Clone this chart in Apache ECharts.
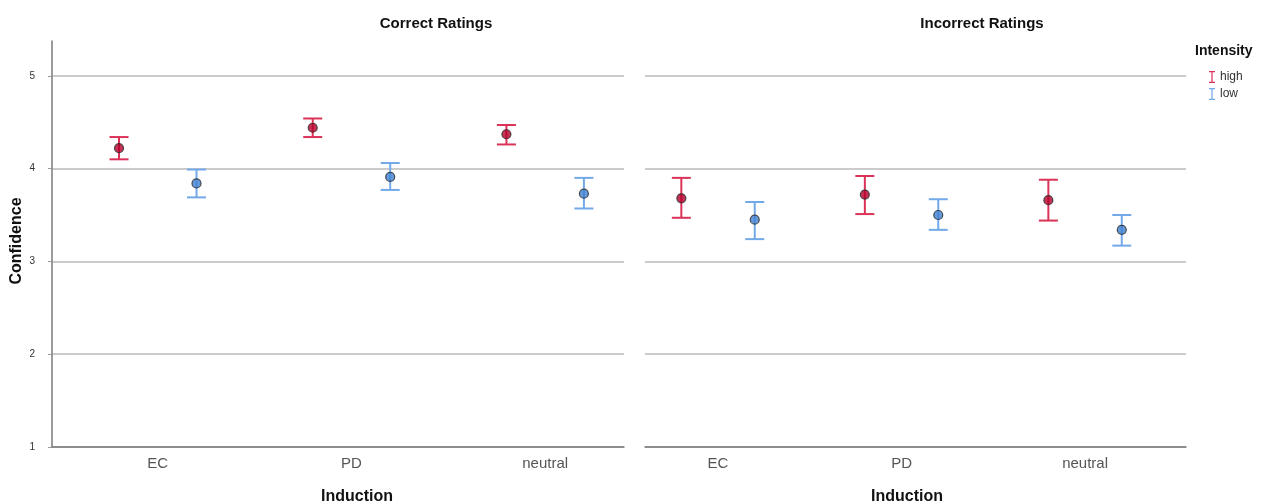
<!DOCTYPE html>
<html>
<head>
<meta charset="utf-8">
<script src="https://cdn.jsdelivr.net/npm/echarts@6/dist/echarts.min.js"></script>
<style>
  html, body { margin: 0; padding: 0; background: #fff; }
  #chart { width: 1263px; height: 504px; }
</style>
</head>
<body>
<div id="chart"></div>
<script>
// Induction conditions on the x axis
const categories = ['EC', 'PD', 'neutral'];
const yTicks = [1, 2, 3, 4, 5];
const panelTitles = ['Correct Ratings', 'Incorrect Ratings'];
const intensities = ['high', 'low'];

// Mean confidence with error bar bounds, correct ratings
const correctHighMean = [4.22, 4.44, 4.37];
const correctHighLow  = [4.10, 4.34, 4.26];
const correctHighHigh = [4.34, 4.54, 4.47];
const correctLowMean  = [3.84, 3.91, 3.73];
const correctLowLow   = [3.69, 3.77, 3.57];
const correctLowHigh  = [3.99, 4.06, 3.90];

// Mean confidence with error bar bounds, incorrect ratings
const incorrectHighMean = [3.68, 3.72, 3.66];
const incorrectHighLow  = [3.47, 3.51, 3.44];
const incorrectHighHigh = [3.90, 3.92, 3.88];
const incorrectLowMean  = [3.45, 3.50, 3.34];
const incorrectLowLow   = [3.24, 3.34, 3.17];
const incorrectLowHigh  = [3.64, 3.67, 3.50];

const FONT = '"Liberation Sans", Arial, sans-serif';
const barColors = { high: '#db3358', low: '#72a9e8' };
const dotColors = { high: '#b5002b', low: '#3f80d2' };
const dodge = { high: -0.2, low: 0.2 };

const panels = [
  { high: [correctHighMean, correctHighLow, correctHighHigh],
    low: [correctLowMean, correctLowLow, correctLowHigh] },
  { high: [incorrectHighMean, incorrectHighLow, incorrectHighHigh],
    low: [incorrectLowMean, incorrectLowLow, incorrectLowHigh] }
];

const legendIcon = 'path://M0,0H8V1.6H4.8V14.4H8V16H0V14.4H3.2V1.6H0Z';

function errorBarItem(params, api) {
  const x = api.value(0);
  const top = api.coord([x, api.value(2)]);
  const bot = api.coord([x, api.value(1)]);
  const half = 9.5;
  const style = { stroke: api.visual('color'), lineWidth: 2 };
  return {
    type: 'group',
    children: [
      { type: 'line', shape: { x1: top[0], y1: top[1], x2: bot[0], y2: bot[1] }, style },
      { type: 'line', shape: { x1: top[0] - half, y1: top[1], x2: top[0] + half, y2: top[1] }, style },
      { type: 'line', shape: { x1: bot[0] - half, y1: bot[1], x2: bot[0] + half, y2: bot[1] }, style }
    ]
  };
}

const series = [];
// error bars first so the legend picks up their colour
panels.forEach((panel, p) => {
  intensities.forEach(key => {
    const [mean, lo, hi] = panel[key];
    series.push({
      name: key,
      type: 'custom',
      xAxisIndex: p,
      yAxisIndex: p,
      itemStyle: { color: barColors[key] },
      renderItem: errorBarItem,
      encode: { x: 0, y: [1, 2] },
      data: categories.map((c, i) => [i + 1 + dodge[key], lo[i], hi[i]]),
      z: 2
    });
  });
});
panels.forEach((panel, p) => {
  intensities.forEach(key => {
    const [mean] = panel[key];
    series.push({
      name: key + ' mean',
      type: 'scatter',
      xAxisIndex: p,
      yAxisIndex: p,
      symbolSize: 9,
      itemStyle: { color: dotColors[key], borderColor: '#2b2b2b', borderWidth: 1.2 },
      data: categories.map((c, i) => [i + 1 + dodge[key], mean[i]]),
      z: 3
    });
  });
});

const xRanges = [[0.454, 3.407], [0.602, 3.55]];

function makeXAxis(idx) {
  return {
    type: 'value',
    gridIndex: idx,
    min: xRanges[idx][0],
    max: xRanges[idx][1],
    axisLine: { show: true, onZero: false, lineStyle: { color: '#7a7a7a', width: 1.5 } },
    axisTick: { show: false },
    splitLine: { show: false },
    axisLabel: {
      customValues: [1, 2, 3],
      formatter: v => categories[Math.round(v) - 1],
      color: '#555',
      fontSize: 15,
      fontFamily: FONT,
      margin: 9
    }
  };
}

function makeYAxis(idx) {
  return {
    type: 'value',
    gridIndex: idx,
    min: 1,
    max: 5.375,
    axisLine: { show: idx === 0, lineStyle: { color: '#7a7a7a', width: 1.5 } },
    axisTick: { show: idx === 0, customValues: yTicks, length: 4, lineStyle: { color: '#999' } },
    axisLabel: {
      show: idx === 0,
      customValues: yTicks,
      color: '#333',
      fontSize: 10,
      fontFamily: FONT,
      margin: 17
    },
    splitLine: { show: true, lineStyle: { color: '#cbcbcb', width: 2 } }
  };
}

const option = {
  backgroundColor: '#fff',
  animation: false,
  grid: [
    { left: 52, top: 41, width: 572, height: 406 },
    { left: 645, top: 41, width: 541, height: 406 }
  ],
  xAxis: [makeXAxis(0), makeXAxis(1)],
  yAxis: [makeYAxis(0), makeYAxis(1)],
  title: [
    { text: panelTitles[0], left: 431, top: 11, textAlign: 'center',
      textStyle: { fontSize: 15, fontWeight: 'bold', color: '#111', fontFamily: FONT } },
    { text: panelTitles[1], left: 977, top: 11, textAlign: 'center',
      textStyle: { fontSize: 15, fontWeight: 'bold', color: '#111', fontFamily: FONT } },
    { text: 'Induction', left: 352, top: 484, textAlign: 'center',
      textStyle: { fontSize: 16, fontWeight: 'bold', color: '#111', fontFamily: FONT } },
    { text: 'Induction', left: 902, top: 484, textAlign: 'center',
      textStyle: { fontSize: 16, fontWeight: 'bold', color: '#111', fontFamily: FONT } },
    { text: 'Intensity', left: 1190, top: 39,
      textStyle: { fontSize: 14, fontWeight: 'bold', color: '#111', fontFamily: FONT } }
  ],
  graphic: [
    { type: 'text', x: 17, y: 241, rotation: Math.PI / 2,
      style: { text: 'Confidence', fill: '#111', font: 'bold 16px ' + FONT,
               textAlign: 'center', textVerticalAlign: 'middle' } }
  ],
  legend: {
    left: 1204,
    top: 66,
    orient: 'vertical',
    itemWidth: 6,
    itemHeight: 12,
    itemGap: 5,
    textStyle: { fontSize: 12, color: '#333', fontFamily: FONT, padding: [0, 0, 0, 0] },
    data: intensities.map(n => ({ name: n, icon: legendIcon }))
  },
  series
};

const chart = echarts.init(document.getElementById('chart'), null, { renderer: 'canvas' });
chart.setOption(option);
</script>
</body>
</html>
